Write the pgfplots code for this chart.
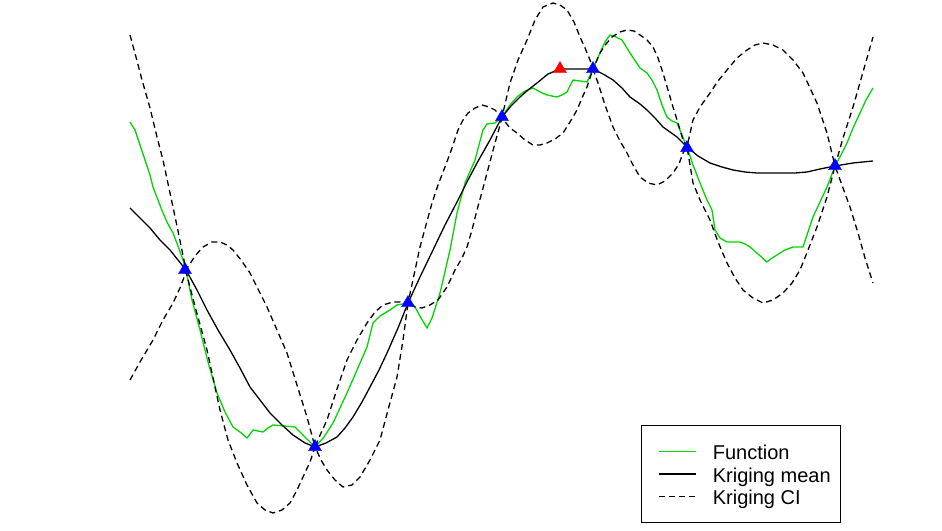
\documentclass[border=0pt]{standalone}
\usepackage{pgfplots}
\pgfplotsset{compat=1.18}
\usepackage{fontspec}
\setmainfont{Liberation Sans}
\definecolor{fgreen}{RGB}{0,215,0}
\begin{document}
\begin{tikzpicture}
\begin{axis}[
  scale only axis, width=942bp, height=531bp,
  xmin=0, xmax=942, ymin=-531, ymax=0,
  axis line style={draw=none}, xtick=\empty, ytick=\empty,
  clip=false,
  legend cell align=left,
  legend image code/.code={\path (0bp,0bp); \draw[line width=1.3bp,#1] (7bp,0bp) -- (44bp,0bp); \path (44bp,0bp);},
  legend style={at={(0.6805,0.1996)}, anchor=north west, draw=black, line width=1bp,
    font=\fontsize{20bp}{22bp}\selectfont, inner xsep=10bp, inner ysep=18bp,
    row sep=6.5bp,
    nodes={inner sep=0pt, text height=16bp, text depth=0bp},
    /tikz/every odd column/.append style={column sep=16bp}},
]
\addplot[fgreen, line width=1.3bp] coordinates {
(130,-122)(135,-130)(140,-145)(145,-160)(150,-175)(153,-187)(158,-200)(163,-213)(168,-224)(173,-233)(178,-246)(183,-260)(186,-270)(192,-300)(200,-330)(208,-362)(217,-393)(225,-412)(233,-427)(240,-432)(247,-438)(253,-430)(258,-431)(263,-432)(268,-428)(273,-425)(285,-426)(295,-427)(305,-437)(315,-447)(324,-437)(333,-423)(340,-408)(347,-393)(357,-370)(367,-347)(373,-323)(380,-316)(390,-310)(397,-305)(408,-303)(412,-304)(415,-307)(421,-318)(427,-328)(432,-318)(440,-293)(450,-250)(457,-213)(465,-183)(475,-160)(483,-130)(487,-124)(495,-123)(502,-117)(510,-105)(517,-97)(525,-91)(533,-88)(540,-92)(547,-95)(552,-96)(557,-97)(562,-95)(567,-92)(573,-80)(580,-81)(587,-82)(593,-69)(600,-53)(605,-42)(610,-35)(616,-37)(622,-40)(630,-53)(640,-68)(647,-73)(652,-80)(657,-90)(662,-105)(667,-117)(672,-121)(677,-123)(682,-135)(687,-147)(693,-165)(700,-183)(707,-200)(712,-210)(715,-230)(720,-238)(727,-242)(735,-242)(740,-242)(745,-244)(750,-247)(758,-254)(767,-262)(772,-258)(777,-255)(785,-250)(793,-247)(803,-247)(808,-232)(813,-217)(820,-202)(827,-187)(835,-166)(841,-155)(847,-143)(853,-128)(860,-113)(866,-100)(873,-88)
};
\addlegendentry{Function}
\addplot[black, line width=1.3bp] coordinates {
(130,-208)(140,-218)(150,-228)(160,-240)(170,-250)(178,-260)(186,-270)(197,-290)(207,-310)(218,-330)(230,-350)(240,-368)(250,-387)(260,-400)(270,-413)(282,-425)(293,-435)(305,-443)(315,-447)(326,-443)(337,-437)(345,-428)(353,-417)(362,-402)(370,-387)(379,-370)(387,-353)(398,-328)(408,-303)(420,-277)(433,-250)(445,-225)(458,-200)(468,-180)(477,-163)(490,-140)(502,-117)(511,-106)(520,-97)(528,-90)(537,-83)(548,-74)(560,-69)(577,-69)(593,-69)(603,-74)(613,-80)(622,-88)(630,-97)(640,-104)(647,-110)(655,-118)(663,-127)(670,-132)(677,-137)(687,-147)(698,-156)(710,-163)(722,-167)(733,-170)(745,-172)(757,-173)(770,-173)(783,-173)(795,-173)(807,-172)(820,-169)(835,-166)(853,-163)(873,-161)
};
\addlegendentry{Kriging mean}
\addplot[black, line width=1.3bp, dash pattern=on 6bp off 4bp] coordinates {
(130,-35)(136,-57)(142,-80)(150,-108)(157,-137)(163,-160)(170,-193)(177,-226)(186,-270)(195,-256)(203,-247)(212,-242)(220,-242)(227,-245)(233,-250)(241,-260)(250,-273)(258,-289)(267,-307)(277,-330)(287,-353)(297,-385)(307,-417)(315,-447)(321,-433)(327,-420)(337,-389)(347,-360)(357,-340)(367,-323)(375,-312)(383,-305)(393,-302)(400,-302)(408,-303)(414,-275)(420,-247)(426,-225)(432,-203)(438,-185)(445,-167)(452,-148)(458,-130)(463,-120)(468,-113)(475,-108)(482,-105)(489,-107)(495,-110)(502,-117)(506,-100)(510,-83)(518,-60)(527,-40)(535,-20)(543,-7)(553,-3)(560,-5)(567,-10)(574,-22)(580,-37)(585,-48)(590,-60)(593,-69)(600,-53)(606,-44)(612,-37)(620,-32)(627,-30)(634,-31)(640,-35)(647,-40)(653,-47)(658,-58)(663,-73)(668,-90)(673,-107)(678,-123)(683,-140)(687,-147)(693,-120)(700,-107)(710,-93)(718,-81)(727,-70)(737,-58)(747,-50)(755,-45)(763,-43)(773,-45)(783,-50)(793,-60)(803,-73)(810,-88)(817,-103)(822,-118)(827,-133)(835,-166)(843,-138)(853,-107)(863,-72)(873,-37)
};
\addlegendentry{Kriging CI}
\addplot[black, line width=1.3bp, dash pattern=on 6bp off 4bp, forget plot] coordinates {
(130,-380)(140,-362)(153,-340)(163,-320)(173,-303)(180,-288)(186,-272)(196,-310)(207,-350)(220,-410)(228,-440)(237,-463)(247,-485)(257,-503)(265,-510)(273,-513)(282,-510)(290,-503)(297,-490)(303,-477)(310,-462)(315,-447)(321,-460)(327,-470)(335,-480)(343,-487)(352,-485)(360,-477)(370,-460)(380,-440)(388,-410)(397,-377)(403,-340)(408,-303)(415,-307)(422,-308)(430,-305)(438,-300)(447,-287)(455,-270)(462,-258)(467,-247)(472,-230)(477,-210)(482,-192)(487,-173)(491,-158)(495,-143)(502,-118)(510,-128)(517,-133)(525,-140)(533,-145)(540,-145)(547,-143)(555,-139)(563,-133)(570,-122)(577,-110)(582,-98)(587,-87)(593,-69)(598,-83)(605,-105)(613,-127)(620,-141)(627,-153)(633,-165)(640,-177)(648,-183)(657,-185)(665,-181)(673,-173)(679,-164)(683,-153)(687,-147)(693,-183)(700,-200)(710,-220)(718,-242)(727,-263)(735,-278)(743,-290)(753,-298)(763,-303)(773,-300)(783,-293)(792,-283)(800,-270)(808,-250)(817,-227)(822,-212)(827,-197)(835,-166)(843,-188)(850,-207)(858,-233)(865,-258)(873,-283)
};
\addplot[only marks, mark=triangle*, mark size=7.5bp, color=blue, forget plot] coordinates {
(185,-270)(315,-447)(408,-303)(502,-117)(593,-69)(687,-148)(835,-166)
};
\addplot[only marks, mark=triangle*, mark size=7.5bp, color=red, forget plot] coordinates {
(560,-69)
};
\end{axis}
\end{tikzpicture}
\end{document}
